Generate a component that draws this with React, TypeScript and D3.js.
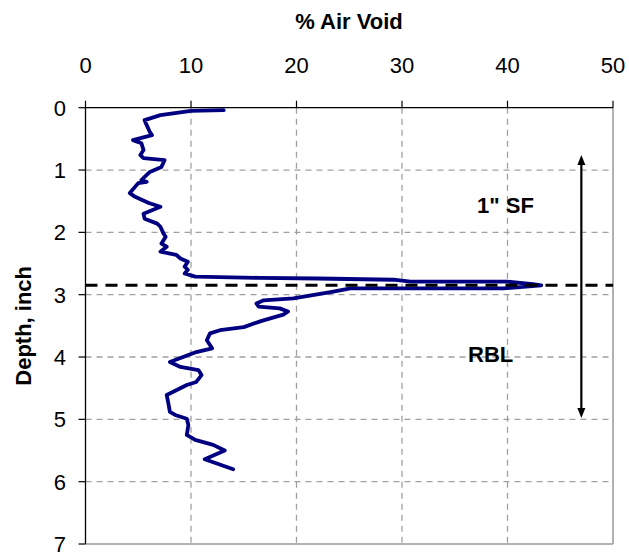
import React from "react";
import * as d3 from "d3";

const depth = [
  0.04, 0.05, 0.12, 0.2, 0.28, 0.39, 0.44, 0.52, 0.57, 0.68, 0.76, 0.81, 0.84, 0.95, 1.03, 1.16, 1.19, 1.21,
  1.37, 1.43, 1.53, 1.59, 1.7, 1.78, 1.86, 1.91, 2.02, 2.07, 2.18, 2.23, 2.31, 2.36, 2.42, 2.47, 2.55, 2.6,
  2.66, 2.71, 2.73, 2.74, 2.76, 2.79, 2.79, 2.83, 2.85, 2.9, 2.9, 2.95, 3.06, 3.09, 3.14, 3.19, 3.22, 3.27,
  3.32, 3.42, 3.52, 3.57, 3.62, 3.73, 3.86, 3.92, 4.08, 4.16, 4.21, 4.29, 4.4, 4.45, 4.61, 4.74, 4.88, 4.93,
  4.99, 5.09, 5.25, 5.33, 5.41, 5.5, 5.64, 5.8,
];
const airVoid = [
  13.1, 10.0, 7.1, 5.6, 5.8, 6.1, 6.3, 4.5, 5.3, 5.5, 5.2, 5.5, 7.5, 7.2, 6.1, 5.3, 5.8, 5.0,
  4.2, 4.7, 6.0, 7.1, 5.5, 5.6, 6.8, 7.1, 7.4, 7.6, 7.2, 7.7, 7.1, 8.6, 9.0, 9.7, 9.4, 9.7,
  9.4, 10.4, 16.5, 22.0, 29.2, 30.8, 39.9, 42.4, 43.2, 39.6, 25.1, 23.5, 19.7, 16.9, 16.2, 16.4, 18.4, 19.2,
  18.75, 16.7, 15.0, 12.75, 11.8, 11.5, 12.0, 10.5, 8.0, 9.0, 10.7, 11.0, 10.5, 9.6, 7.7, 7.85, 8.0, 8.5,
  9.6, 9.75, 9.6, 10.4, 12.1, 13.2, 11.3, 14.0,
];
const xTicks = [0, 10, 20, 30, 40, 50];
const yTicks = [0, 1, 2, 3, 4, 5, 6, 7];
const interfaceDepth = [2.85];
const arrowX = [47];
const arrowRange = [0.76, 4.98];
const annotations = [
  { text: '1" SF', v: 39.8, d: 1.56 },
  { text: "RBL", v: 38.4, d: 3.95 },
];

const W = 629;
const H = 552;
const L = 85.5, R = 613, T = 107.7, B = 544;

export default function App() {
  const x = d3.scaleLinear().domain([0, 50]).range([L, R]);
  const y = d3.scaleLinear().domain([0, 7]).range([T, B]);
  const pts = depth.map((d, i) => [airVoid[i], d] as [number, number]);
  const line = d3.line<[number, number]>().x((p) => x(p[0])).y((p) => y(p[1])).curve(d3.curveLinear);
  const font = "'Liberation Sans', Arial, sans-serif";
  const ax = x(arrowX[0]);
  const ay1 = y(arrowRange[0]);
  const ay2 = y(arrowRange[1]);
  return (
    <svg width={W} height={H} style={{ position: "absolute", left: 0, top: 0 }} fontFamily={font}>
      <rect x={0} y={0} width={W} height={H} fill="#fff" />
      {xTicks.filter((t) => t > 0 && t < 50).map((t) => (
        <line key={"gx" + t} x1={x(t)} x2={x(t)} y1={T} y2={B} stroke="#a0a0a0" strokeWidth={1.3} strokeDasharray="6,5" />
      ))}
      {yTicks.filter((t) => t > 0 && t < 7).map((t) => (
        <line key={"gy" + t} x1={L} x2={R} y1={y(t)} y2={y(t)} stroke="#a0a0a0" strokeWidth={1.3} strokeDasharray="6,5" />
      ))}
      <line x1={R} x2={R} y1={T} y2={B} stroke="#999" strokeWidth={1.5} />
      <line x1={L} x2={R} y1={B} y2={B} stroke="#999" strokeWidth={1.5} />
      <line x1={L} x2={R} y1={T} y2={T} stroke="#000" strokeWidth={1.3} />
      <line x1={L} x2={L} y1={T} y2={B} stroke="#000" strokeWidth={1.3} />
      {xTicks.map((t) => (
        <g key={"xt" + t}>
          <line x1={x(t)} x2={x(t)} y1={T - 7} y2={T} stroke="#000" strokeWidth={1.2} />
          <text x={x(t)} y={73} textAnchor="middle" fontSize={22}>{t}</text>
        </g>
      ))}
      {yTicks.map((t) => (
        <g key={"yt" + t}>
          <line x1={L - 7} x2={L} y1={y(t)} y2={y(t)} stroke="#000" strokeWidth={1.2} />
          <text x={66} y={y(t) + 8} textAnchor="end" fontSize={22}>{t}</text>
        </g>
      ))}
      <text x={349} y={29} textAnchor="middle" fontSize={22} fontWeight="bold">% Air Void</text>
      <text transform={`translate(31,${(T + B) / 2}) rotate(-90)`} textAnchor="middle" fontSize={22} fontWeight="bold">Depth, inch</text>
      <path d={line(pts) || ""} fill="none" stroke="#000080" strokeWidth={3.8} strokeLinejoin="round" strokeLinecap="round" />
      {interfaceDepth.map((d) => (
        <line key={"if" + d} x1={L} x2={R} y1={y(d)} y2={y(d)} stroke="#000" strokeWidth={3} strokeDasharray="12,8" />
      ))}
      <line x1={ax} x2={ax} y1={ay1 + 6} y2={ay2 - 6} stroke="#000" strokeWidth={2.2} />
      <path d={`M${ax},${ay1} L${ax - 4},${ay1 + 10} L${ax + 4},${ay1 + 10} Z`} fill="#000" />
      <path d={`M${ax},${ay2} L${ax - 4},${ay2 - 10} L${ax + 4},${ay2 - 10} Z`} fill="#000" />
      {annotations.map((a) => (
        <text key={a.text} x={x(a.v)} y={y(a.d) + 8} textAnchor="middle" fontSize={22} fontWeight="bold">{a.text}</text>
      ))}
    </svg>
  );
}
